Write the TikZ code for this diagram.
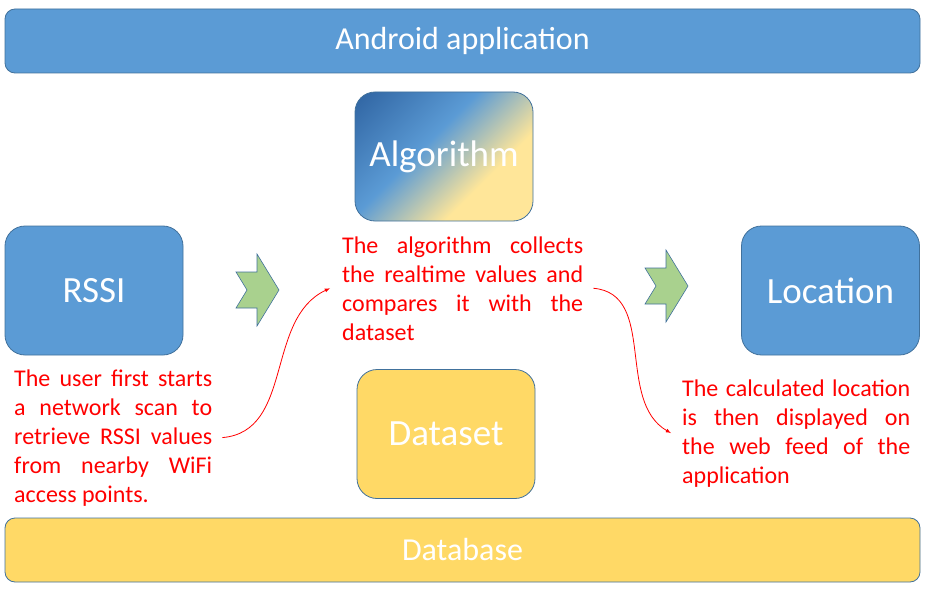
\documentclass[tikz,border=0pt]{standalone}
\usepackage{fontspec}
\setmainfont{Carlito}
\usepackage{tikz}
\usetikzlibrary{shapes,arrows,positioning,calc}

\definecolor{boxblue}{HTML}{5B9BD5}
\definecolor{boxedge}{HTML}{41719C}
\definecolor{boxyellow}{HTML}{FFD966}
\definecolor{lightyellow}{HTML}{FFE699}
\definecolor{darkblue}{HTML}{2E62A0}
\definecolor{arrowgreen}{HTML}{A9D18E}
\pgfdeclarehorizontalshading{algoshade}{100bp}{color(0bp)=(darkblue); color(14bp)=(darkblue); color(43bp)=(boxblue); color(65bp)=(lightyellow); color(100bp)=(lightyellow)}

\begin{document}
\begin{tikzpicture}[x=1pt,y=-1pt,>=latex,
    bar/.style={draw=boxedge,line width=0.8pt,rounded corners=10pt,minimum width=915pt,minimum height=64pt,inner sep=0pt,text=white,font=\fontsize{32}{38}\selectfont},
    block/.style={draw=boxedge,line width=0.8pt,rounded corners=20pt,minimum width=178pt,minimum height=129pt,inner sep=0pt,text=white,font=\fontsize{37}{44}\selectfont},
    note/.style={text=red,inner sep=0pt,align=justify,anchor=base west,font=\fontsize{24}{29}\selectfont},
    chevron/.style={draw=boxedge,fill=arrowgreen,line width=0.6pt},
    link/.style={draw=red,line width=0.8pt,->}]
  \useasboundingbox (0,0) rectangle (926,591);
  \node [bar,fill=boxblue] (app) at (462.5,41) {Android application};
  \node [block,shade,shading=algoshade,shading angle=-45] (algo) at (444,156.5) {Algorithm};
  \node [block,fill=boxblue] (rssi) at (94,290.5) {RSSI};
  \node [block,fill=boxblue] (loc) at (830.5,290.5) {Location};
  \node [block,fill=boxyellow] (dataset) at (446,434) {Dataset};
  \node [bar,fill=boxyellow] (db) at (462.5,550) {Database};
  \draw [chevron,shift={(279,290)}] (-43,-18) -- (-22,-18) -- (-22,-36) -- (0,0) -- (-22,36) -- (-22,18) -- (-43,18) -- (-32,0) -- cycle;
  \draw [chevron,shift={(688,286)}] (-43,-18) -- (-22,-18) -- (-22,-36) -- (0,0) -- (-22,36) -- (-22,18) -- (-43,18) -- (-32,0) -- cycle;
  \node [note,text width=198pt] (scantxt) at (14,386) {The user first starts \linebreak a network scan to \linebreak retrieve RSSI values \linebreak from nearby WiFi \linebreak access points.};
  \node [note,text width=241pt] (algtxt) at (342,253) {The algorithm collects \linebreak the realtime values and \linebreak compares it with the \linebreak dataset};
  \node [note,text width=228pt] (loctxt) at (682,396) {The calculated location \linebreak is then displayed on \linebreak the web feed of the \linebreak application};
  \draw [link] ([xshift=10pt]scantxt.east) to [out=5,in=205] ([xshift=-12pt]algtxt.west);
  \draw [link] ([xshift=10pt]algtxt.east) to [out=-5,in=150] ([xshift=-11pt]loctxt.west);
\end{tikzpicture}
\end{document}
